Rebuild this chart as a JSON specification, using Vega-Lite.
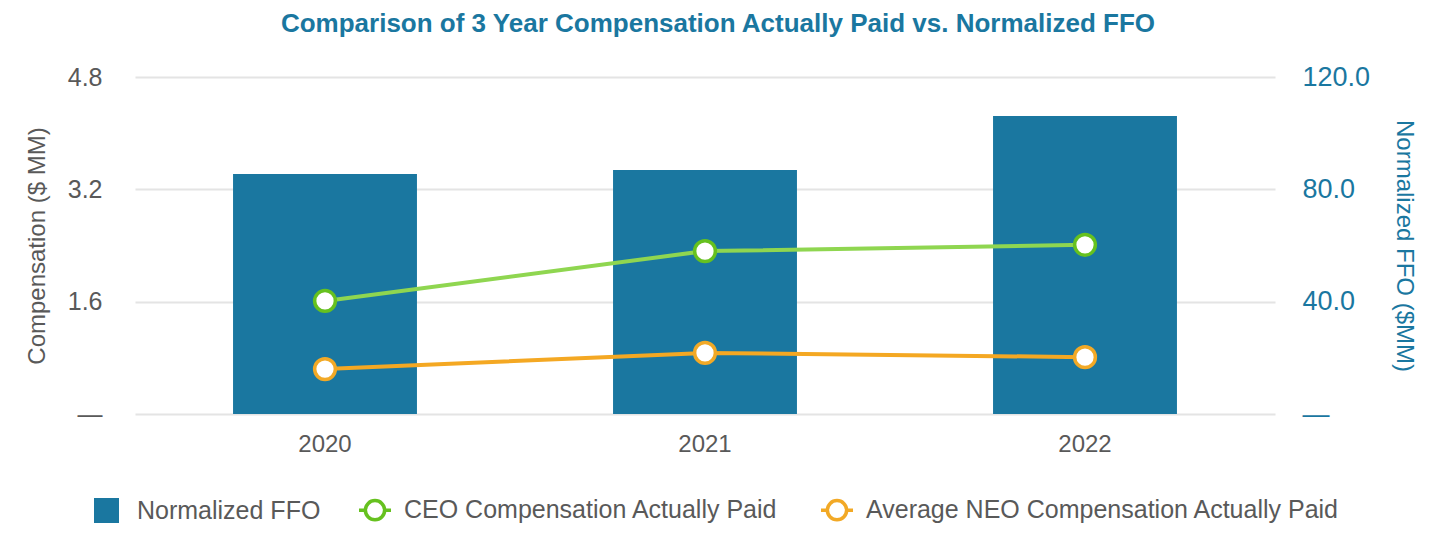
{
  "$schema": "https://vega.github.io/schema/vega-lite/v6.json",
  "autosize": {"type": "none"},
  "padding": {"left": 135, "top": 77, "right": 165, "bottom": 136},
  "width": 1140,
  "height": 337,
  "background": "white",
  "title": {
    "text": "Comparison of 3 Year Compensation Actually Paid vs. Normalized FFO",
    "font": "Liberation Sans",
    "fontSize": 26,
    "fontWeight": "bold",
    "color": "#1a77a0",
    "anchor": "middle",
    "dx": 13,
    "offset": 26
  },
  "data": {
    "values": [
      {"year": "2020", "series": "Normalized FFO", "value": 85.5},
      {"year": "2021", "series": "Normalized FFO", "value": 86.9},
      {"year": "2022", "series": "Normalized FFO", "value": 106.1},
      {"year": "2020", "series": "CEO Compensation Actually Paid", "value": 1.61},
      {"year": "2021", "series": "CEO Compensation Actually Paid", "value": 2.32},
      {"year": "2022", "series": "CEO Compensation Actually Paid", "value": 2.41},
      {"year": "2020", "series": "Average NEO Compensation Actually Paid", "value": 0.64},
      {"year": "2021", "series": "Average NEO Compensation Actually Paid", "value": 0.87},
      {"year": "2022", "series": "Average NEO Compensation Actually Paid", "value": 0.81}
    ]
  },
  "encoding": {
    "x": {
      "field": "year",
      "type": "nominal",
      "sort": ["2020", "2021", "2022"],
      "scale": {"paddingInner": 0.516, "paddingOuter": 0.258},
      "axis": {
        "title": null,
        "labelAngle": 0,
        "labelFont": "Liberation Sans",
        "labelFontSize": 24,
        "labelColor": "#595959",
        "labelPadding": 18,
        "domain": false,
        "ticks": false
      }
    }
  },
  "layer": [
    {
      "transform": [{"filter": "datum.series === 'Normalized FFO'"}],
      "mark": {"type": "bar"},
      "encoding": {
        "y": {
          "field": "value",
          "type": "quantitative",
          "scale": {"domain": [0, 120], "nice": false},
          "axis": {
            "orient": "right",
            "title": "Normalized FFO ($MM)",
            "titleFont": "Liberation Sans",
            "titleFontSize": 24,
            "titleFontWeight": "normal",
            "titleColor": "#1a77a0",
            "titlePadding": 22,
            "values": [0, 40, 80, 120],
            "labelExpr": "datum.value === 0 ? '—' : format(datum.value, '.1f')",
            "labelFont": "Liberation Sans",
            "labelFontSize": 27,
            "labelColor": "#1a77a0",
            "labelPadding": 27,
            "grid": false,
            "domain": false,
            "ticks": false
          }
        },
        "fill": {
          "field": "series",
          "type": "nominal",
          "scale": {"domain": ["Normalized FFO"], "range": ["#1a77a0"]},
          "legend": {
            "orient": "none",
            "direction": "horizontal",
            "legendX": -42,
            "legendY": 420,
            "title": null,
            "padding": 0,
            "labelFont": "Liberation Sans",
            "labelFontSize": 25,
            "labelColor": "#595959",
            "labelOffset": 17,
            "labelLimit": 800,
            "symbolType": "square",
            "symbolSize": 625,
            "symbolOpacity": 1
          }
        }
      }
    },
    {
      "layer": [
        {
          "transform": [{"filter": "datum.series === 'CEO Compensation Actually Paid'"}],
          "mark": {"type": "line", "strokeWidth": 4, "color": "#8fd650"},
          "encoding": {
            "y": {
              "field": "value",
              "type": "quantitative",
              "scale": {"domain": [0, 4.8], "nice": false},
              "axis": {
                "orient": "left",
                "title": "Compensation ($ MM)",
                "titleFont": "Liberation Sans",
                "titleFontSize": 24,
                "titleFontWeight": "normal",
                "titleColor": "#595959",
                "titlePadding": 18,
                "values": [0, 1.6, 3.2, 4.8],
                "labelExpr": "datum.value === 0 ? '—' : format(datum.value, '.1f')",
                "labelFont": "Liberation Sans",
                "labelFontSize": 25,
                "labelColor": "#595959",
                "labelPadding": 33,
                "grid": true,
                "gridColor": "#e4e4e4",
                "gridWidth": 2,
                "domain": false,
                "ticks": false
              }
            }
          }
        },
        {
          "transform": [{"filter": "datum.series === 'Average NEO Compensation Actually Paid'"}],
          "mark": {"type": "line", "strokeWidth": 4, "color": "#f4a823"},
          "encoding": {
            "y": {"field": "value", "type": "quantitative"}
          }
        },
        {
          "transform": [{"filter": "datum.series !== 'Normalized FFO'"}],
          "mark": {"type": "point", "filled": true, "fill": "#ffffff", "size": 430, "strokeWidth": 3.5, "opacity": 1},
          "encoding": {
            "y": {"field": "value", "type": "quantitative"},
            "stroke": {
              "field": "series",
              "type": "nominal",
              "sort": null,
              "scale": {
                "domain": ["CEO Compensation Actually Paid", "Average NEO Compensation Actually Paid"],
                "range": ["#66c11f", "#f2a926"]
              },
              "legend": {
                "orient": "none",
                "direction": "horizontal",
                "legendX": 222,
                "legendY": 415,
                "title": null,
                "padding": 0,
                "labelFont": "Liberation Sans",
                "labelFontSize": 25,
                "labelColor": "#595959",
                "labelOffset": 11,
                "labelLimit": 800,
                "columnPadding": 36,
                "symbolType": "M-1,0H-0.6M0.6,0A0.6,0.6 0 1,1 -0.6,0A0.6,0.6 0 1,1 0.6,0M0.6,0H1",
                "symbolSize": 1024,
                "symbolStrokeWidth": 3.5,
                "symbolFillColor": "#ffffff",
                "symbolOpacity": 1
              }
            }
          }
        }
      ]
    }
  ],
  "resolve": {"scale": {"y": "independent"}},
  "config": {"view": {"stroke": null}}
}
